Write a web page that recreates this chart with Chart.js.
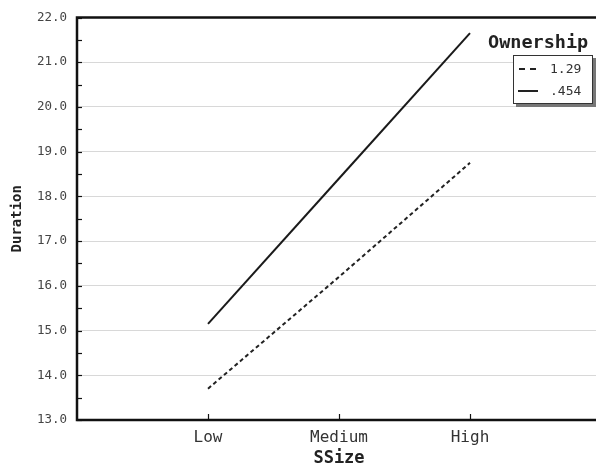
<!DOCTYPE html>
<html>
<head>
<meta charset="utf-8">
<script src="https://cdn.jsdelivr.net/npm/chart.js@4"></script>
<style>
  html, body { margin: 0; padding: 0; background: #fff; overflow: hidden; }
  #wrap { position: relative; width: 610px; height: 464px; }
  #legendTitle {
    position: absolute; left: 488px; top: 31px;
    font: bold 18.5px "DejaVu Sans Mono", monospace; color: #222;
  }
  #legendBox {
    position: absolute; left: 513px; top: 55px; width: 78px; height: 47px;
    background: #fff; border: 1px solid #333; box-shadow: 3px 3px 0 #777;
    font: 13px "DejaVu Sans Mono", monospace; color: #333;
  }
  .row { position: absolute; left: 4px; height: 16px; line-height: 16px; }
  .swatch { position: absolute; left: 0; top: 7px; width: 20px; height: 0; border-top: 2px solid #222; }
  .swatch.dash { border-top: none; }
  .swatch.dash i { position: absolute; top: 0; width: 6px; height: 2px; background: #222; }
  .lbl { position: absolute; left: 32px; top: 0; white-space: nowrap; }
</style>
</head>
<body>
<div id="wrap">
  <canvas id="chart" width="610" height="464"></canvas>
  <div id="legendTitle">Ownership</div>
  <div id="legendBox"></div>
</div>
<script>
// Data
const categories = ['Low', 'Medium', 'High'];
const seriesNames = ['1.29', '.454'];
const ownership129 = [13.7, 16.2, 18.75];
const ownership454 = [15.15, 18.4, 21.65];
const yTicks = [13, 14, 15, 16, 17, 18, 19, 20, 21, 22];

function toPoints(values) {
    return values.map((v, i) => ({ x: i + 1, y: v }));
}

// Build legend
const legendBox = document.getElementById('legendBox');
seriesNames.forEach((name, i) => {
    const row = document.createElement('div');
    row.className = 'row';
    row.style.top = (5 + i * 22) + 'px';
    const swatch = i === 0
        ? '<span class="swatch dash"><i style="left:1px"></i><i style="left:12px"></i></span>'
        : '<span class="swatch"></span>';
    row.innerHTML = swatch + '<span class="lbl">' + name + '</span>';
    legendBox.appendChild(row);
});

// Frame, inward ticks and minor ticks
const framePlugin = {
    id: 'frame',
    afterDatasetsDraw(chart) {
        const { ctx, chartArea: a, scales } = chart;
        ctx.save();
        ctx.strokeStyle = '#111';
        ctx.lineWidth = 1.2;
        // minor ticks on y axis
        for (let v = yTicks[0]; v <= yTicks[yTicks.length - 1]; v += 0.5) {
            const y = Math.round(scales.y.getPixelForValue(v)) + 0.5;
            ctx.beginPath();
            ctx.moveTo(a.left, y);
            ctx.lineTo(a.left + 5, y);
            ctx.stroke();
        }
        // x ticks pointing up
        categories.forEach((c, i) => {
            const x = Math.round(scales.x.getPixelForValue(i + 1)) + 0.5;
            ctx.beginPath();
            ctx.moveTo(x, a.bottom);
            ctx.lineTo(x, a.bottom - 6);
            ctx.stroke();
        });
        // frame
        ctx.lineWidth = 2.5;
        ctx.beginPath();
        ctx.moveTo(a.right + 10, a.top);
        ctx.lineTo(a.left, a.top);
        ctx.lineTo(a.left, a.bottom);
        ctx.lineTo(a.right + 10, a.bottom);
        ctx.stroke();
        ctx.restore();
    }
};

const mono = '"DejaVu Sans Mono", monospace';

new Chart(document.getElementById('chart'), {
    type: 'line',
    data: {
        datasets: [
            {
                label: seriesNames[0],
                data: toPoints(ownership129),
                borderColor: '#222',
                borderWidth: 2,
                borderDash: [4, 3],
                pointRadius: 0,
                tension: 0
            },
            {
                label: seriesNames[1],
                data: toPoints(ownership454),
                borderColor: '#1a1a1a',
                borderWidth: 2,
                pointRadius: 0,
                tension: 0
            }
        ]
    },
    options: {
        responsive: false,
        animation: false,
        layout: { padding: { left: 0, top: 16, right: 9, bottom: 0 } },
        plugins: {
            legend: { display: false },
            tooltip: { enabled: false }
        },
        scales: {
            x: {
                type: 'linear',
                min: 0,
                max: categories.length + 1,
                afterBuildTicks: (scale) => {
                    scale.ticks = categories.map((c, i) => ({ value: i + 1 }));
                },
                afterFit: (scale) => { scale.height = 44; },
                ticks: {
                    autoSkip: false,
                    maxRotation: 0,
                    padding: 8,
                    color: '#333',
                    font: { family: mono, size: 16 },
                    callback: (v) => categories[v - 1] || ''
                },
                grid: { display: false, drawTicks: false },
                border: { display: false },
                title: {
                    display: true,
                    text: 'SSize',
                    color: '#222',
                    padding: { top: 0, bottom: -5 },
                    font: { family: mono, size: 17, weight: 'bold' }
                }
            },
            y: {
                min: yTicks[0],
                max: yTicks[yTicks.length - 1],
                afterBuildTicks: (scale) => {
                    scale.ticks = yTicks.map(v => ({ value: v }));
                },
                afterFit: (scale) => { scale.width = 77; },
                ticks: {
                    autoSkip: false,
                    padding: 10,
                    color: '#444',
                    font: { family: mono, size: 12.5 },
                    callback: (v) => Number(v).toFixed(1)
                },
                grid: {
                    drawTicks: false,
                    color: (c) => (c.tick && (c.tick.value === yTicks[0] || c.tick.value === yTicks[yTicks.length - 1])) ? 'rgba(0,0,0,0)' : '#d8d8d8',
                    lineWidth: 1
                },
                border: { display: false },
                title: {
                    display: true,
                    text: 'Duration',
                    color: '#222',
                    padding: { top: 9, bottom: 0 },
                    font: { family: mono, size: 14, weight: 'bold' }
                }
            }
        }
    },
    plugins: [framePlugin]
});
</script>
</body>
</html>
